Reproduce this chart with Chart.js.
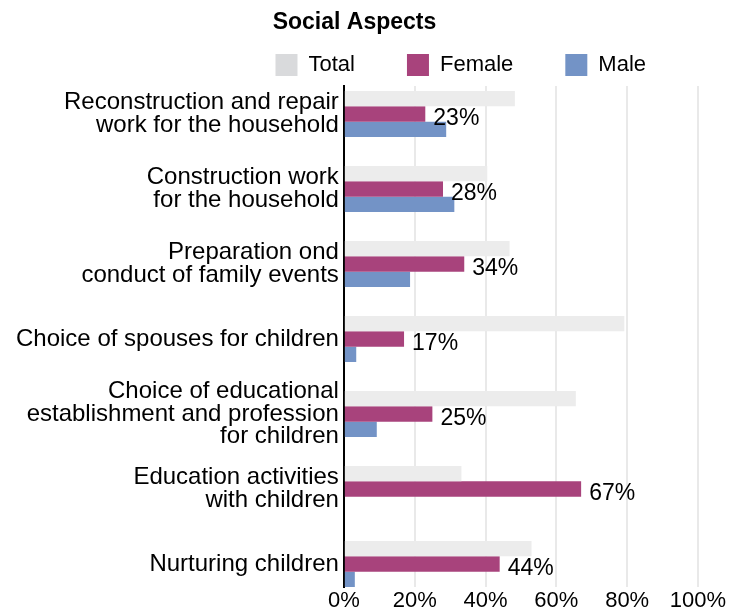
<!DOCTYPE html>
<html>
<head>
<meta charset="utf-8">
<title>Social Aspects</title>
<script src="https://cdn.jsdelivr.net/npm/chart.js@4.4.1/dist/chart.umd.min.js"></script>
<style>
  html, body { margin: 0; padding: 0; background: #fff; }
  #wrap { width: 739px; height: 615px; }
</style>
</head>
<body>
<div id="wrap"><canvas id="chart"></canvas></div>
<script>
// --- data (percent) ---
const categories = [
  ['Reconstruction and repair', 'work for the household'],
  ['Construction work', 'for the household'],
  ['Preparation ond', 'conduct of family events'],
  'Choice of spouses for children',
  ['Choice of educational', 'establishment and profession', 'for children'],
  ['Education activities', 'with children'],
  'Nurturing children'
];
const totalValues = [48.3, 40.5, 46.8, 79.2, 65.5, 33.2, 53.0];
const femaleValues = [23, 28, 34, 17, 25, 67, 44];
const maleValues = [28.9, 31.2, 18.7, 3.5, 9.3, 0, 3.1];
const xTicks = [0, 20, 40, 60, 80, 100];

const FONT = '"Liberation Sans", Arial, Helvetica, sans-serif';
Chart.defaults.font.family = FONT;
Chart.defaults.color = '#000';

// bars sit on index 0..6 of a linear y axis so the first and last group touch the plot edges
const points = (values) => values.map((v, i) => ({ x: v, y: i }));

// percent labels next to the female bars
const femaleLabels = {
  id: 'femaleLabels',
  afterDatasetsDraw(chart) {
    const ctx = chart.ctx;
    const meta = chart.getDatasetMeta(1);
    ctx.save();
    ctx.font = '23px ' + FONT;
    ctx.fillStyle = '#000';
    ctx.textBaseline = 'middle';
    ctx.textAlign = 'left';
    meta.data.forEach((bar, i) => {
      ctx.fillText(femaleValues[i] + '%', bar.x + 8, bar.y + 5);
    });
    ctx.restore();
  }
};

new Chart(document.getElementById('chart'), {
  type: 'bar',
  data: {
    datasets: [
      { label: 'Total', data: points(totalValues), backgroundColor: '#ececec' },
      { label: 'Female', data: points(femaleValues), backgroundColor: '#a8437c' },
      { label: 'Male', data: points(maleValues), backgroundColor: '#7393c6' }
    ]
  },
  options: {
    indexAxis: 'y',
    responsive: true,
    maintainAspectRatio: false,
    animation: false,
    layout: { padding: { left: 11, right: 41 } },
    datasets: { bar: { barPercentage: 1, categoryPercentage: 0.614 } },
    plugins: {
      title: {
        display: true,
        text: 'Social Aspects',
        color: '#000',
        font: { size: 23, weight: 'bold' },
        padding: { top: 9, bottom: -34.6 }
      },
      legend: {
        align: 'end',
        labels: {
          boxWidth: 22,
          boxHeight: 22,
          padding: 52,
          color: '#000',
          font: { size: 22 },
          generateLabels(chart) {
            const items = Chart.defaults.plugins.legend.labels.generateLabels(chart);
            items[0].fillStyle = '#d9dadc';
            return items;
          }
        }
      },
      tooltip: { enabled: false }
    },
    scales: {
      x: {
        min: 0,
        max: 100,
        afterBuildTicks: (scale) => { scale.ticks = xTicks.map(v => ({ value: v })); },
        ticks: {
          callback: (v) => v + '%',
          color: '#000',
          font: { size: 22, lineHeight: 1 },
          padding: 3,
          maxRotation: 0,
          autoSkip: false
        },
        grid: { color: '#e9e9e9', lineWidth: 2, drawTicks: false },
        border: { display: false }
      },
      y: {
        type: 'linear',
        reverse: true,
        offset: false,
        min: -0.373,
        max: 6.307,
        z: 1,
        afterBuildTicks: (scale) => { scale.ticks = categories.map((c, i) => ({ value: i })); },
        ticks: {
          callback: (v) => categories[v],
          autoSkip: false,
          color: '#000',
          font: { size: 24, lineHeight: 0.95 },
          padding: 5
        },
        grid: { display: false, drawTicks: false, offset: false },
        border: { color: '#000', width: 2 }
      }
    }
  },
  plugins: [femaleLabels]
});
</script>
</body>
</html>
